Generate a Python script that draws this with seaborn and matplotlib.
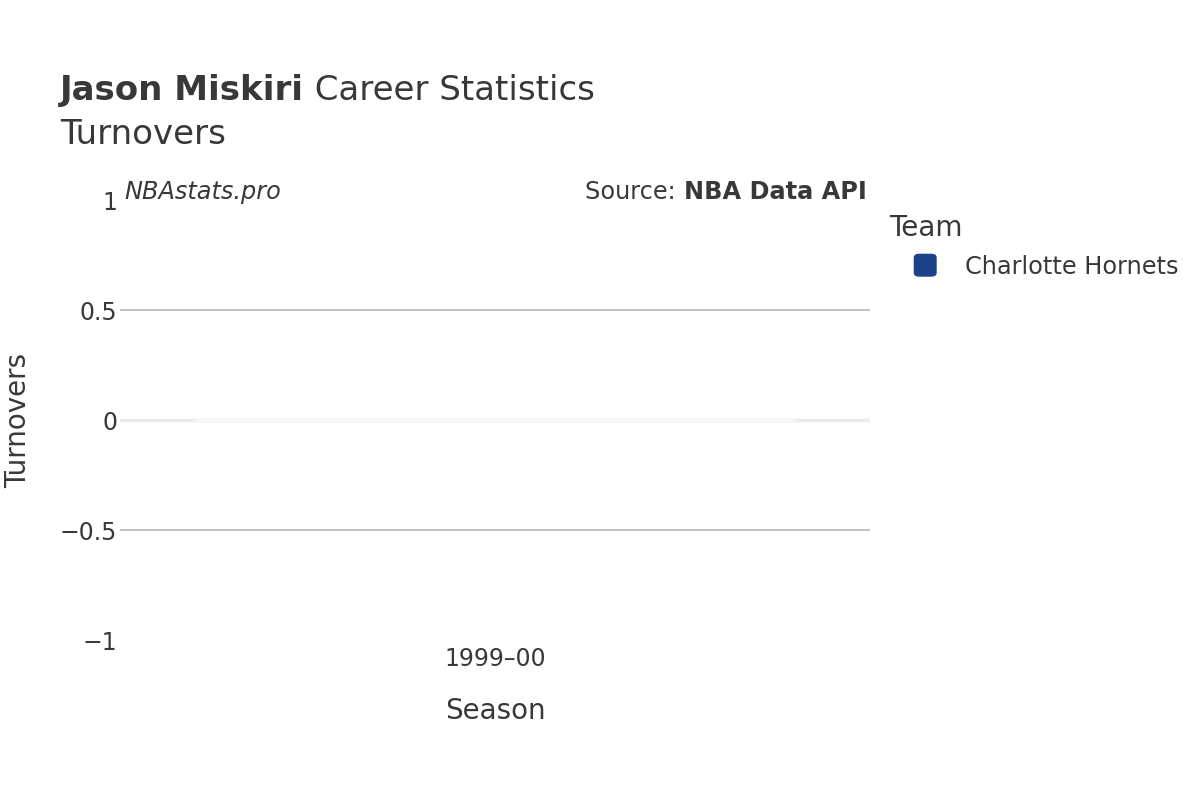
import pandas as pd
import seaborn as sns
import matplotlib.pyplot as plt
from matplotlib.patches import FancyBboxPatch

# data
seasons = ["1999\u201300"]
teams = ["Charlotte Hornets"]
turnovers = [0]
team_colors = {"Charlotte Hornets": "#1d428a"}

df = pd.DataFrame({"Season": seasons, "Team": teams, "Turnovers": turnovers})

sns.set_style("white")
plt.rcParams['font.family'] = ['DejaVu Sans']
text_color = "#383838"

fig = plt.figure(figsize=(12, 8), dpi=100)
ax = fig.add_axes([0.1, 0.2, 0.625, 0.55])

sns.barplot(data=df, x="Season", y="Turnovers", hue="Team", palette=team_colors,
            width=0.8, ax=ax, legend=False)

ax.set_ylim(-1, 1)
ax.set_xlim(-0.5, 0.5)
ax.set_yticks([-1, -0.5, 0, 0.5, 1])
ax.set_yticklabels(["\u22121", "\u22120.5", "0", "0.5", "1"])
for y in [-0.5, 0.5]:
    ax.axhline(y, color="#bdbdbd", lw=1.3, zorder=0)
ax.axhline(0, color="#ececec", lw=2.5, zorder=0)

for s in ax.spines.values():
    s.set_visible(False)
ax.tick_params(axis="both", length=0, labelsize=17, colors=text_color, pad=2)
ax.tick_params(axis="x", pad=5)
ax.set_xlabel("Season", fontsize=20, color=text_color, labelpad=19)
ax.set_ylabel("Turnovers", fontsize=20, color=text_color, labelpad=20)

# title
name = fig.text(0.05, 0.875, "Jason Miskiri", fontsize=24.5, fontweight="bold", color=text_color)
rest = fig.text(0.25, 0.875, " Career Statistics", fontsize=24.5, color=text_color)
fig.text(0.05, 0.82, "Turnovers", fontsize=24.5, color=text_color)

# annotations
fig.text(0.104, 0.76, "NBAstats.pro", fontsize=17.3, style="italic", color=text_color, va="center")
src_lbl = fig.text(0.6, 0.76, "Source: ", fontsize=17.3, color=text_color, va="center", ha="right")
src = fig.text(0.722, 0.76, "NBA Data API", fontsize=17.3, fontweight="bold", color=text_color,
               va="center", ha="right")

# legend
fig.text(0.741, 0.715, "Team", fontsize=20.2, color=text_color, va="center")
fig.patches.append(FancyBboxPatch((0.762, 0.655), 0.018, 0.027,
                                  boxstyle="round,pad=0,rounding_size=0.004",
                                  transform=fig.transFigure,
                                  color=team_colors["Charlotte Hornets"]))
fig.text(0.804, 0.666, "Charlotte Hornets", fontsize=17.3, color=text_color, va="center")

# line up the mixed-weight text pieces
fig.canvas.draw()
r = fig.canvas.get_renderer()
src_lbl.set_x(src.get_window_extent(r).x0 / fig.bbox.width)
rest.set_x(name.get_window_extent(r).x1 / fig.bbox.width)

fig.savefig("out.png", dpi=100, facecolor="white")
